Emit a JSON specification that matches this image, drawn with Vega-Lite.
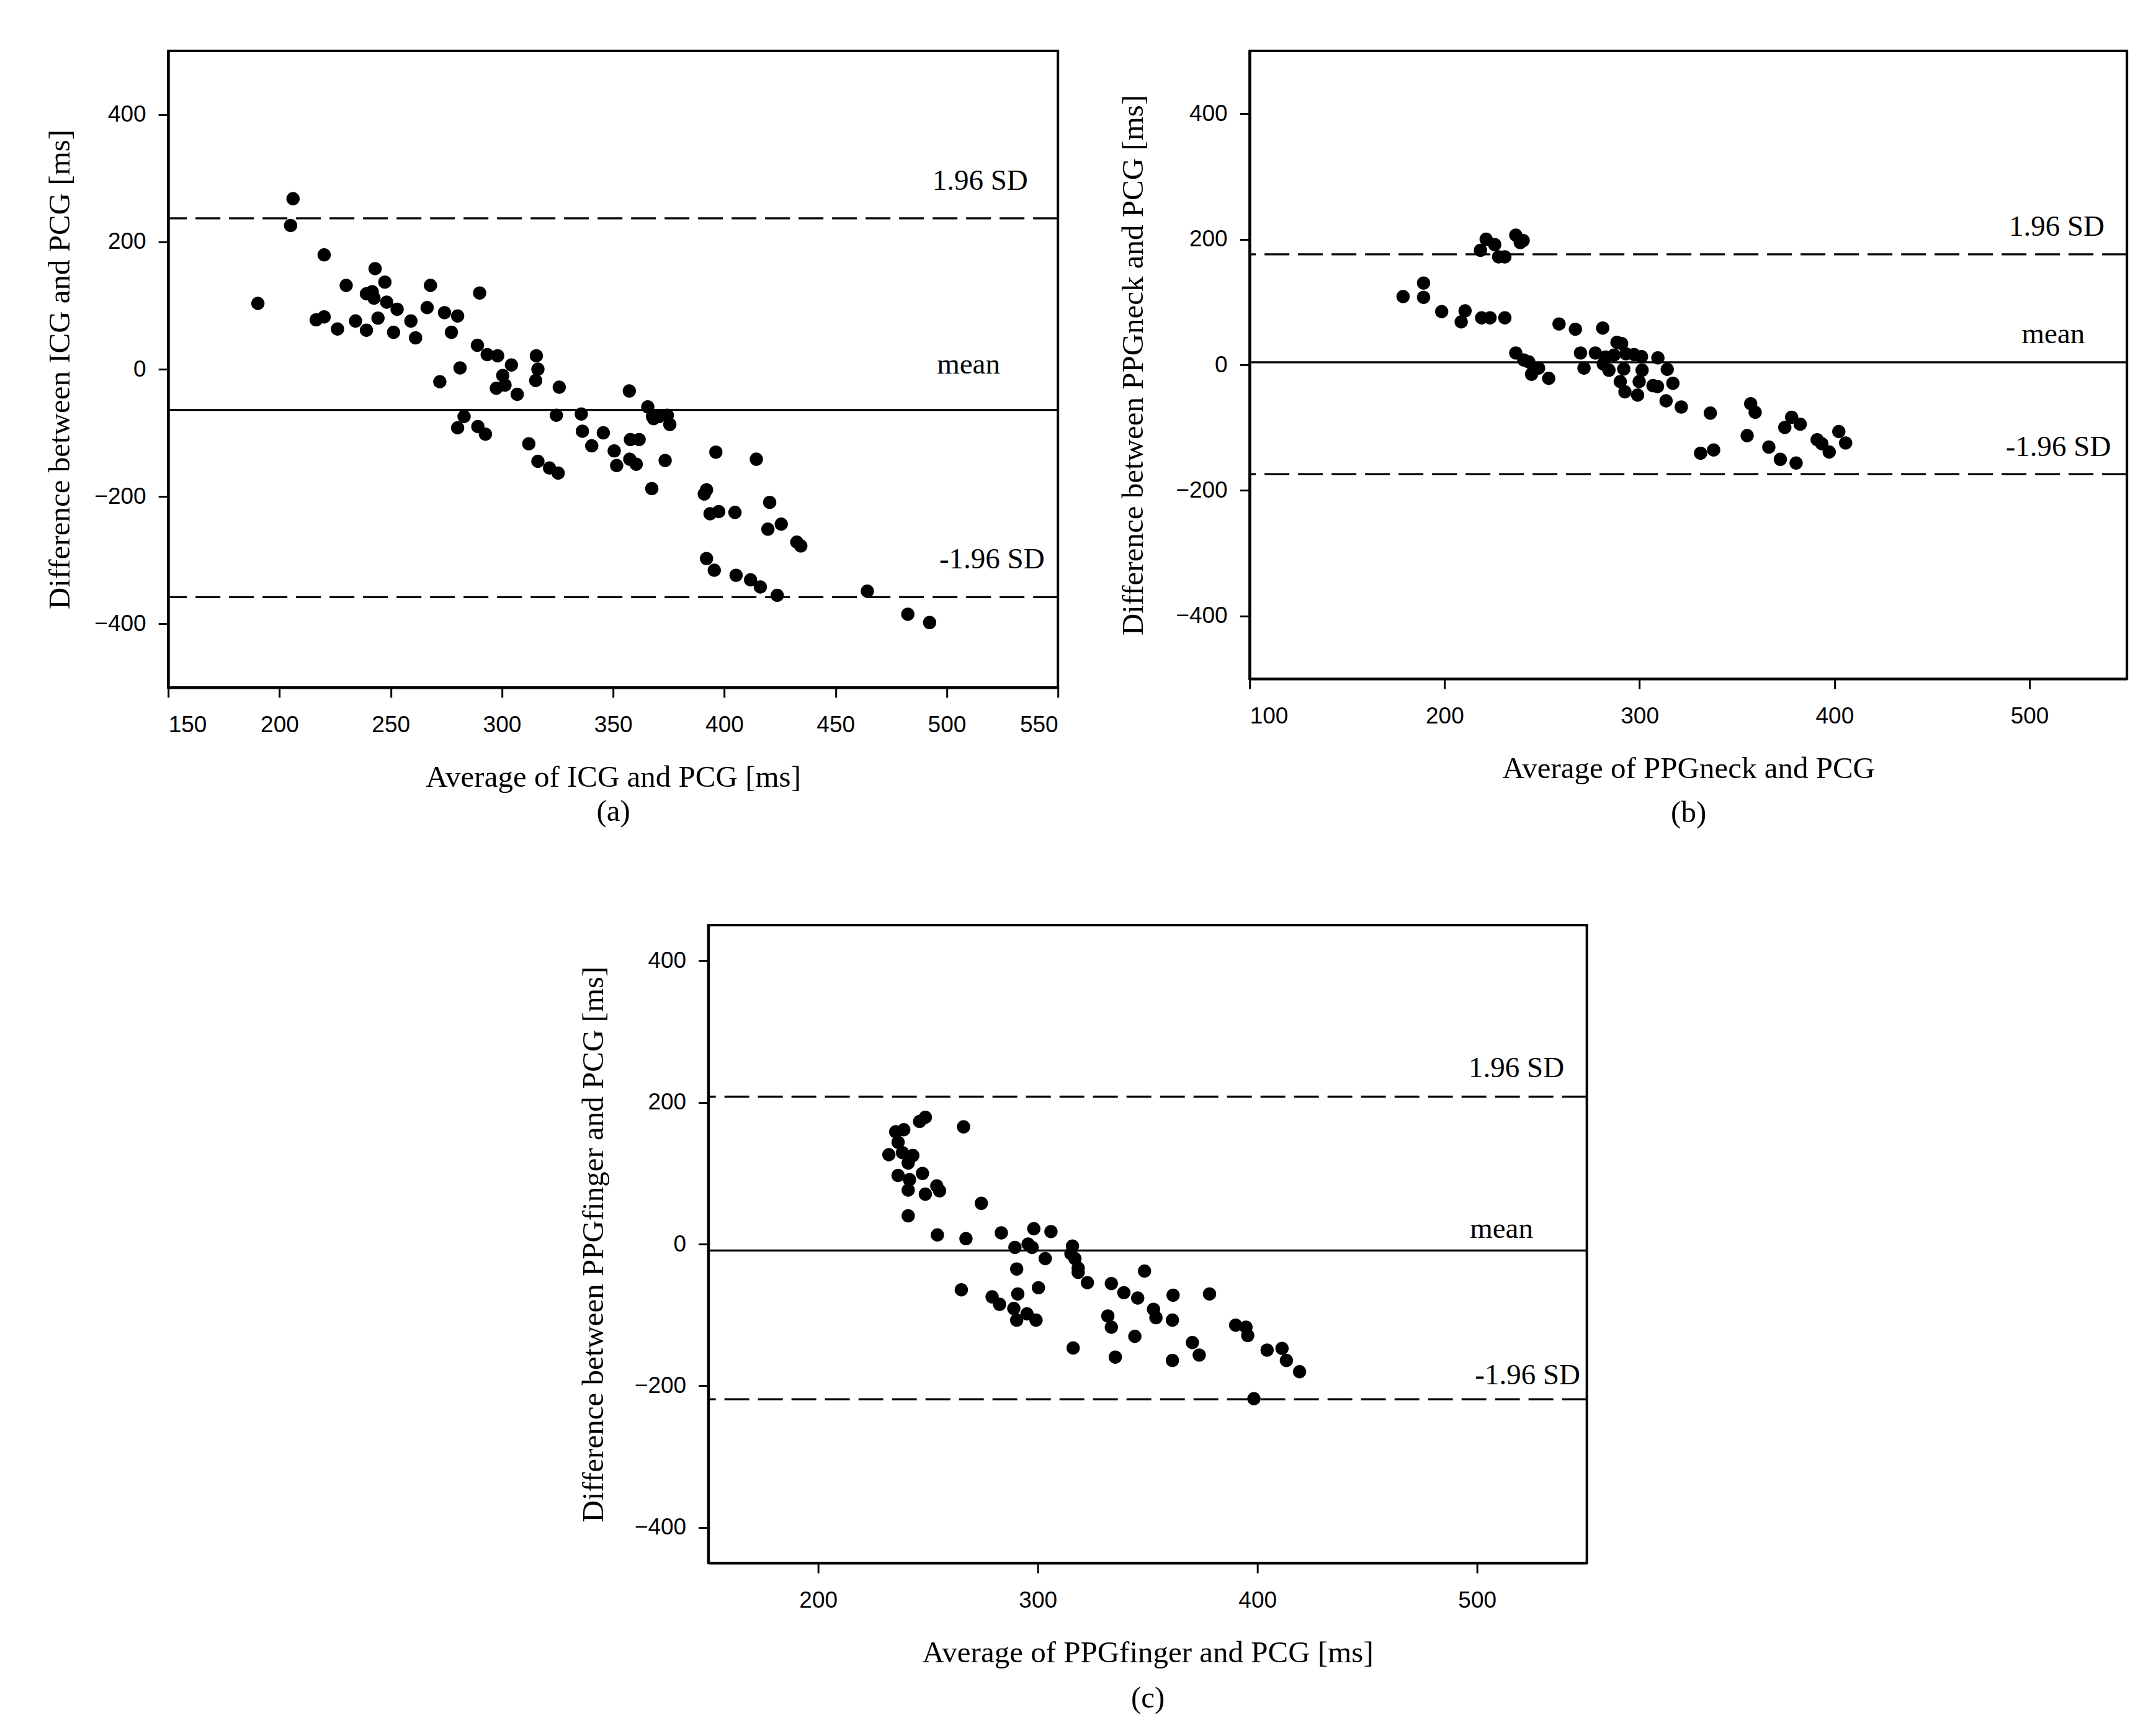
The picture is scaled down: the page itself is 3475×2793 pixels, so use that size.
{
  "$schema": "https://vega.github.io/schema/vega-lite/v6.json",
  "background": "white",
  "padding": {"left": 70, "top": 80, "right": 5, "bottom": 5},
  "config": {
    "view": {"stroke": "black", "strokeWidth": 4},
    "axis": {
      "grid": false,
      "domainColor": "black", "domainWidth": 4,
      "tickColor": "black", "tickWidth": 3, "tickSize": 16,
      "labelFont": "Liberation Sans", "labelFontSize": 37, "labelColor": "black",
      "titleFont": "Liberation Serif", "titleFontSize": 49, "titleFontWeight": "normal", "titleColor": "black"
    },
    "axisX": {"labelPadding": 26, "titlePadding": 42},
    "axisY": {"labelPadding": 20}
  },
  "datasets": {
    "a": [
      {"x":206.1,"y":267.8},{"x":205,"y":225.7},{"x":220.1,"y":179.6},{"x":190.3,"y":103.3},{"x":243,"y":158},{"x":247.4,"y":136.8},{"x":230,"y":131.6},{"x":239.1,"y":118.4},{"x":241.7,"y":121.7},{"x":242.5,"y":111.8},{"x":248.2,"y":105.3},{"x":252.9,"y":94.1},{"x":216.5,"y":77.6},{"x":220.1,"y":82.2},{"x":226.1,"y":63.2},{"x":234.2,"y":75.7},{"x":239.1,"y":61.2},{"x":244.3,"y":80.3},{"x":251.3,"y":57.9},{"x":259.1,"y":75.7},{"x":261.2,"y":49.3},{"x":266.4,"y":96.7},{"x":267.9,"y":131.6},{"x":274.2,"y":88.8},{"x":280.1,"y":83.6},{"x":277.3,"y":57.9},{"x":290,"y":119.7},{"x":289,"y":37.5},{"x":293.4,"y":23},{"x":298.1,"y":21},{"x":304.3,"y":6.6},{"x":300.4,"y":-9.9},{"x":297.5,"y":-30},{"x":301.4,"y":-25},{"x":306.9,"y":-39.5},{"x":281.2,"y":2},{"x":272.1,"y":-19.7},{"x":315.5,"y":21},{"x":316.2,"y":0},{"x":315.2,"y":-17.8},{"x":325.8,"y":-28.3},{"x":324.5,"y":-72.4},{"x":283,"y":-74.3},{"x":280.1,"y":-92.1},{"x":289.2,"y":-90.1},{"x":292.6,"y":-102},{"x":312.1,"y":-117.1},{"x":316.2,"y":-144.7},{"x":321.4,"y":-155.3},{"x":325.3,"y":-163.2},{"x":335.7,"y":-70.4},{"x":336.2,"y":-97.4},{"x":340.4,"y":-120.4},{"x":345.6,"y":-100},{"x":350.5,"y":-128.3},{"x":351.6,"y":-151.3},{"x":357.3,"y":-34.2},{"x":357.8,"y":-110.5},{"x":361.7,"y":-110.5},{"x":357.5,"y":-141.4},{"x":360.4,"y":-149.3},{"x":365.6,"y":-59.2},{"x":367.7,"y":-74.3},{"x":368.2,"y":-77.6},{"x":370.8,"y":-74.3},{"x":374.4,"y":-72.4},{"x":375.5,"y":-86.8},{"x":373.4,"y":-143.4},{"x":367.4,"y":-187.5},{"x":396.2,"y":-130.3},{"x":392,"y":-189.5},{"x":391,"y":-196},{"x":393.6,"y":-227},{"x":397.5,"y":-223.7},{"x":404.8,"y":-225},{"x":414.4,"y":-141.4},{"x":420.4,"y":-209.2},{"x":419.6,"y":-251.3},{"x":425.6,"y":-243.4},{"x":432.6,"y":-271.7},{"x":434.4,"y":-277.6},{"x":392,"y":-297.4},{"x":395.5,"y":-315.8},{"x":405.3,"y":-323.7},{"x":411.8,"y":-330.9},{"x":416.2,"y":-342.1},{"x":423.8,"y":-355.3},{"x":464.3,"y":-348.7},{"x":482.5,"y":-384.9},{"x":492.3,"y":-398}
    ],
    "b": [
      {"x":221.3,"y":200},{"x":218.4,"y":182.4},{"x":225.7,"y":191.5},{"x":227.7,"y":172},{"x":230.9,"y":172},{"x":236.5,"y":206.5},{"x":238.8,"y":194.8},{"x":240.3,"y":198},{"x":189.2,"y":130.3},{"x":178.7,"y":108.8},{"x":189.2,"y":107.5},{"x":198.5,"y":84.7},{"x":210.5,"y":86},{"x":208.5,"y":68.4},{"x":219,"y":74.9},{"x":223.3,"y":74.9},{"x":230.9,"y":74.9},{"x":258.7,"y":65.1},{"x":267.1,"y":56.7},{"x":281.1,"y":58.6},{"x":288.4,"y":35.8},{"x":290.8,"y":33.9},{"x":269.7,"y":18.9},{"x":277.3,"y":18.9},{"x":282.6,"y":12.4},{"x":286.9,"y":15.6},{"x":293,"y":17.6},{"x":297.2,"y":16.3},{"x":301,"y":13},{"x":309.4,"y":11.1},{"x":271.5,"y":-5.2},{"x":281.4,"y":1.3},{"x":284.3,"y":-8.5},{"x":291.9,"y":-6.5},{"x":290.1,"y":-26.7},{"x":292.5,"y":-43},{"x":301.3,"y":-8.5},{"x":299.8,"y":-26.7},{"x":299,"y":-48.2},{"x":306.9,"y":-33.2},{"x":309.2,"y":-34.5},{"x":314.2,"y":-7.2},{"x":317.1,"y":-29.3},{"x":313.6,"y":-57.3},{"x":236.5,"y":18.9},{"x":240.6,"y":7.8},{"x":243.2,"y":4.6},{"x":248.2,"y":-5.2},{"x":244.6,"y":-15},{"x":253.4,"y":-21.5},{"x":321.4,"y":-67.1},{"x":336.3,"y":-76.9},{"x":357,"y":-61.9},{"x":359.3,"y":-75.6},{"x":378,"y":-83.4},{"x":382.4,"y":-94.5},{"x":374.5,"y":-99.7},{"x":355.2,"y":-112.7},{"x":366.3,"y":-131},{"x":372.2,"y":-150.5},{"x":380.3,"y":-156.4},{"x":331.3,"y":-140.7},{"x":338,"y":-135.5},{"x":391.1,"y":-119.2},{"x":393.5,"y":-125.7},{"x":397.3,"y":-138.8},{"x":402.2,"y":-106.2},{"x":405.7,"y":-124.4}
    ],
    "c": [
      {"x":248.8,"y":178.9},{"x":246.2,"y":173},{"x":239,"y":161.3},{"x":235.3,"y":158.4},{"x":236.4,"y":143.7},{"x":266.2,"y":165.4},{"x":232.2,"y":126.1},{"x":238.4,"y":129},{"x":243.1,"y":124.9},{"x":241,"y":114.4},{"x":236.4,"y":96.8},{"x":241.6,"y":90.9},{"x":247.5,"y":99.7},{"x":241,"y":76.2},{"x":248.8,"y":70.4},{"x":255.3,"y":75.1},{"x":254,"y":82.1},{"x":274.3,"y":57.5},{"x":241,"y":39.9},{"x":254.3,"y":12.9},{"x":267.3,"y":7.6},{"x":283.4,"y":15.8},{"x":298.2,"y":21.7},{"x":306,"y":17.6},{"x":289.6,"y":-4.7},{"x":295.6,"y":0},{"x":297.4,"y":-4.7},{"x":315.8,"y":-2.9},{"x":315.1,"y":-13.5},{"x":316.9,"y":-20.5},{"x":318.4,"y":-34},{"x":318.4,"y":-39.9},{"x":303.4,"y":-20.5},{"x":290.4,"y":-35.2},{"x":322.6,"y":-54.5},{"x":348.6,"y":-38.1},{"x":265.2,"y":-64.5},{"x":279.2,"y":-74.5},{"x":282.6,"y":-85},{"x":290.9,"y":-70.4},{"x":289.1,"y":-90.9},{"x":290.4,"y":-107.3},{"x":295.1,"y":-98.5},{"x":299.2,"y":-107.3},{"x":300.3,"y":-61.6},{"x":333.5,"y":-55.7},{"x":339.2,"y":-68.6},{"x":345.5,"y":-76.2},{"x":361.6,"y":-72.1},{"x":378.2,"y":-70.4},{"x":352.7,"y":-92.1},{"x":353.8,"y":-103.8},{"x":361.3,"y":-107.3},{"x":331.9,"y":-101.5},{"x":333.5,"y":-117.3},{"x":344.2,"y":-130.2},{"x":316.1,"y":-146.6},{"x":335.3,"y":-159.5},{"x":361.3,"y":-164.2},{"x":370.4,"y":-139},{"x":373.5,"y":-156.6},{"x":390.1,"y":-114.4},{"x":394.8,"y":-117.3},{"x":395.6,"y":-129},{"x":404.4,"y":-149.6},{"x":411.2,"y":-147.2},{"x":413.2,"y":-164.2},{"x":419.2,"y":-180.1},{"x":398.4,"y":-218.2}
    ]
  },
  "spacing": 153,
  "center": true,
  "vconcat": [
    {
      "spacing": 91,
      "hconcat": [
        {
          "width": 1434, "height": 1026,
          "layer": [
            {
              "data": {"name": "a"},
              "mark": {"type": "circle", "size": 460, "color": "black", "opacity": 1},
              "encoding": {
                "x": {"field": "x", "type": "quantitative", "scale": {"domain": [150, 550], "nice": false, "zero": false},
                      "axis": {"values": [150, 200, 250, 300, 350, 400, 450, 500, 550], "title": ["Average of ICG and PCG [ms]", "(a)"], "titleLineHeight": 55, "titlePadding": 42}},
                "y": {"field": "y", "type": "quantitative", "scale": {"domain": [-500, 500], "nice": false},
                      "axis": {"values": [-400, -200, 0, 200, 400], "title": "Difference between ICG and PCG [ms]", "titlePadding": 30}}
              }
            },
            {
              "data": {"values": [{"y": 237}, {"y": -358}]},
              "mark": {"type": "rule", "color": "black", "strokeWidth": 3.3, "strokeDash": [40, 14]},
              "encoding": {"y": {"field": "y", "type": "quantitative"}}
            },
            {
              "data": {"values": [{"y": -64}]},
              "mark": {"type": "rule", "color": "black", "strokeWidth": 3.3},
              "encoding": {"y": {"field": "y", "type": "quantitative"}}
            },
            {
              "data": {"values": [{"x": 536.5, "y": 281.6, "t": "1.96 SD"}, {"x": 524, "y": -6.6, "t": "mean"}, {"x": 544, "y": -312.5, "t": "-1.96 SD"}]},
              "mark": {"type": "text", "align": "right", "baseline": "alphabetic", "font": "Liberation Serif", "fontSize": 47, "color": "black"},
              "encoding": {"x": {"field": "x", "type": "quantitative"}, "y": {"field": "y", "type": "quantitative"}, "text": {"field": "t"}}
            }
          ]
        },
        {
          "width": 1414, "height": 1012,
          "layer": [
            {
              "data": {"name": "b"},
              "mark": {"type": "circle", "size": 460, "color": "black", "opacity": 1},
              "encoding": {
                "x": {"field": "x", "type": "quantitative", "scale": {"domain": [100, 550], "nice": false, "zero": false},
                      "axis": {"values": [100, 200, 300, 400, 500], "title": ["Average of PPGneck and PCG", "(b)"], "titleLineHeight": 71, "titlePadding": 42}},
                "y": {"field": "y", "type": "quantitative", "scale": {"domain": [-500, 500], "nice": false},
                      "axis": {"values": [-400, -200, 0, 200, 400], "title": "Difference between PPGneck and PCG [ms]", "titlePadding": 43}}
              }
            },
            {
              "data": {"values": [{"y": 176}, {"y": -174}]},
              "mark": {"type": "rule", "color": "black", "strokeWidth": 3.3, "strokeDash": [40, 14]},
              "encoding": {"y": {"field": "y", "type": "quantitative"}}
            },
            {
              "data": {"values": [{"y": 4}]},
              "mark": {"type": "rule", "color": "black", "strokeWidth": 3.3},
              "encoding": {"y": {"field": "y", "type": "quantitative"}}
            },
            {
              "data": {"values": [{"x": 538.5, "y": 205.5, "t": "1.96 SD"}, {"x": 528.4, "y": 34.6, "t": "mean"}, {"x": 541.8, "y": -145, "t": "-1.96 SD"}]},
              "mark": {"type": "text", "align": "right", "baseline": "alphabetic", "font": "Liberation Serif", "fontSize": 47, "color": "black"},
              "encoding": {"x": {"field": "x", "type": "quantitative"}, "y": {"field": "y", "type": "quantitative"}, "text": {"field": "t"}}
            }
          ]
        }
      ]
    },
    {
      "width": 1416, "height": 1028,
      "layer": [
        {
          "data": {"name": "c"},
          "mark": {"type": "circle", "size": 460, "color": "black", "opacity": 1},
          "encoding": {
            "x": {"field": "x", "type": "quantitative", "scale": {"domain": [150, 550], "nice": false, "zero": false},
                  "axis": {"values": [200, 300, 400, 500], "title": ["Average of PPGfinger and PCG [ms]", "(c)"], "titleLineHeight": 73, "titlePadding": 42}},
            "y": {"field": "y", "type": "quantitative", "scale": {"domain": [-450, 450], "nice": false},
                  "axis": {"values": [-400, -200, 0, 200, 400], "title": "Difference between PPGfinger and PCG [ms]", "titlePadding": 41}}
          }
        },
        {
          "data": {"values": [{"y": 208}, {"y": -219}]},
          "mark": {"type": "rule", "color": "black", "strokeWidth": 3.3, "strokeDash": [40, 14]},
          "encoding": {"y": {"field": "y", "type": "quantitative"}}
        },
        {
          "data": {"values": [{"y": -9}]},
          "mark": {"type": "rule", "color": "black", "strokeWidth": 3.3},
          "encoding": {"y": {"field": "y", "type": "quantitative"}}
        },
        {
          "data": {"values": [{"x": 539.7, "y": 235.8, "t": "1.96 SD"}, {"x": 525.5, "y": 8.8, "t": "mean"}, {"x": 547, "y": -197.7, "t": "-1.96 SD"}]},
          "mark": {"type": "text", "align": "right", "baseline": "alphabetic", "font": "Liberation Serif", "fontSize": 47, "color": "black"},
          "encoding": {"x": {"field": "x", "type": "quantitative"}, "y": {"field": "y", "type": "quantitative"}, "text": {"field": "t"}}
        }
      ]
    }
  ]
}
